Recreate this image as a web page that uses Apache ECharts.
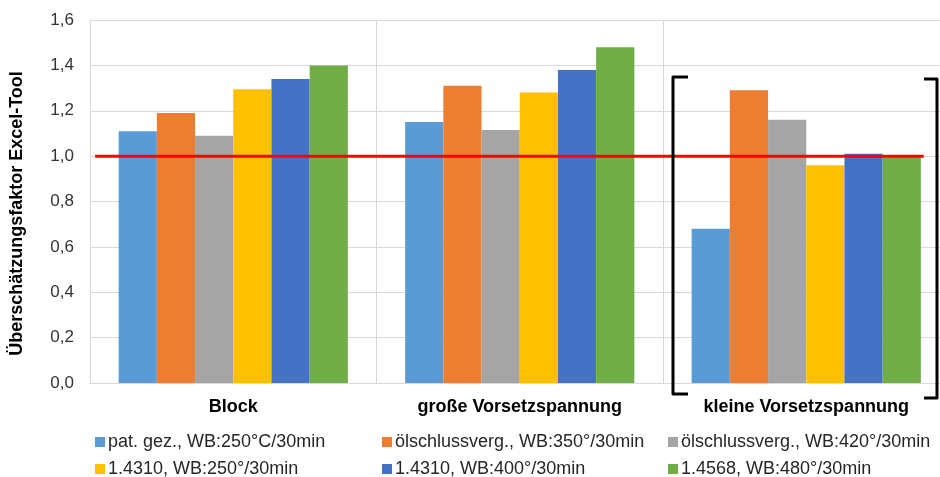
<!DOCTYPE html>
<html>
<head>
<meta charset="utf-8">
<script src="https://cdn.jsdelivr.net/npm/echarts@6/dist/echarts.min.js"></script>
<style>
  html, body { margin: 0; padding: 0; background: #fff; overflow: hidden; }
  #chart { width: 952px; height: 477px; }
</style>
</head>
<body>
<div id="chart"></div>
<script>
// Groups on the x axis
const categories = ['Block', 'große Vorsetzspannung', 'kleine Vorsetzspannung'];

// Series names (heat treatments)
const seriesNames = [
  'pat. gez., WB:250°C/30min',
  'ölschlussverg., WB:350°/30min',
  'ölschlussverg., WB:420°/30min',
  '1.4310, WB:250°/30min',
  '1.4310, WB:400°/30min',
  '1.4568, WB:480°/30min'
];

// Overestimation factor per series, one value per group
const patGez250 = [1.11, 1.15, 0.68];
const oelVerg350 = [1.19, 1.31, 1.29];
const oelVerg420 = [1.09, 1.115, 1.16];
const st4310_250 = [1.295, 1.28, 0.96];
const st4310_400 = [1.34, 1.38, 1.01];
const st4568_480 = [1.40, 1.48, 1.00];

// Y axis tick settings
const yMin = 0;
const yMax = 1.6;
const yStep = 0.2;

// Reference level and its horizontal extent (in category units, 0..3)
const refValue = 1.0;
const refFrom = 0.018;
const refTo = 2.91;

const seriesValues = [patGez250, oelVerg350, oelVerg420, st4310_250, st4310_400, st4568_480];
const colors = ['#5B9BD5', '#ED7D31', '#A5A5A5', '#FFC000', '#4472C4', '#70AD47'];

const FONT = 'Liberation Sans, Arial, sans-serif';

const chart = echarts.init(document.getElementById('chart'), null, { renderer: 'canvas' });

// One legend entry per box so the two rows line up in fixed columns
const legendCols = [95, 382, 668];
const legendRows = [433, 460];
const legendLayout = [[0, 0], [1, 0], [2, 0], [0, 1], [1, 1], [2, 1]];
const legends = seriesNames.map((name, i) => ({
  left: legendCols[legendLayout[i][0]],
  top: legendRows[legendLayout[i][1]],
  padding: 0,
  itemWidth: 10,
  itemHeight: 10,
  icon: 'rect',
  selectedMode: false,
  textStyle: { fontSize: 18, color: '#262626', fontFamily: FONT, padding: [0, 0, 0, -2] },
  data: [name]
}));

const bars = seriesNames.map((name, i) => ({
  name: name,
  type: 'bar',
  xAxisIndex: 0,
  yAxisIndex: 0,
  barGap: '0%',
  barCategoryGap: '20%',
  itemStyle: { color: colors[i] },
  emphasis: { disabled: true },
  data: seriesValues[i]
}));

const option = {
  animation: false,
  backgroundColor: '#ffffff',
  grid: { left: 90, top: 20, width: 859.5, height: 363, containLabel: false },
  legend: legends,
  xAxis: [
    {
      type: 'category',
      data: categories,
      boundaryGap: true,
      axisLine: { show: true, lineStyle: { color: '#D9D9D9', width: 1 } },
      axisTick: { show: false },
      axisLabel: {
        margin: 15,
        fontSize: 18,
        fontWeight: 'bold',
        color: '#000000',
        fontFamily: FONT,
        interval: 0
      },
      splitLine: { show: true, lineStyle: { color: '#D9D9D9', width: 1 } }
    },
    {
      type: 'value',
      min: 0,
      max: categories.length,
      show: false
    }
  ],
  yAxis: {
    type: 'value',
    min: yMin,
    max: yMax,
    interval: yStep,
    name: 'Überschätzungsfaktor Excel-Tool',
    nameLocation: 'middle',
    nameGap: 64,
    nameTextStyle: {
      fontSize: 18,
      fontWeight: 'bold',
      color: '#000000',
      fontFamily: FONT,
      padding: [0, 24, 0, 0]
    },
    axisLine: { show: false },
    axisTick: { show: false },
    axisLabel: {
      margin: 16,
      fontSize: 17,
      color: '#333333',
      fontFamily: FONT,
      formatter: v => v.toFixed(1).replace('.', ',')
    },
    splitLine: { show: true, lineStyle: { color: '#D9D9D9', width: 1 } }
  },
  series: bars.concat([
    {
      name: 'Referenz',
      type: 'line',
      xAxisIndex: 1,
      yAxisIndex: 0,
      symbol: 'none',
      lineStyle: { color: '#FF0000', width: 3 },
      emphasis: { disabled: true },
      z: 5,
      data: [[refFrom, refValue], [refTo, refValue]]
    }
  ]),
  // Brackets framing the third group
  graphic: [
    {
      type: 'polyline',
      shape: { points: [[688, 77], [673, 77], [673, 394], [688, 394]] },
      style: { stroke: '#000000', lineWidth: 3, fill: null, lineJoin: 'round' },
      z: 10
    },
    {
      type: 'polyline',
      shape: { points: [[924, 79], [937, 79], [937, 398], [924, 398]] },
      style: { stroke: '#000000', lineWidth: 3, fill: null, lineJoin: 'round' },
      z: 10
    }
  ]
};

chart.setOption(option);
</script>
</body>
</html>
